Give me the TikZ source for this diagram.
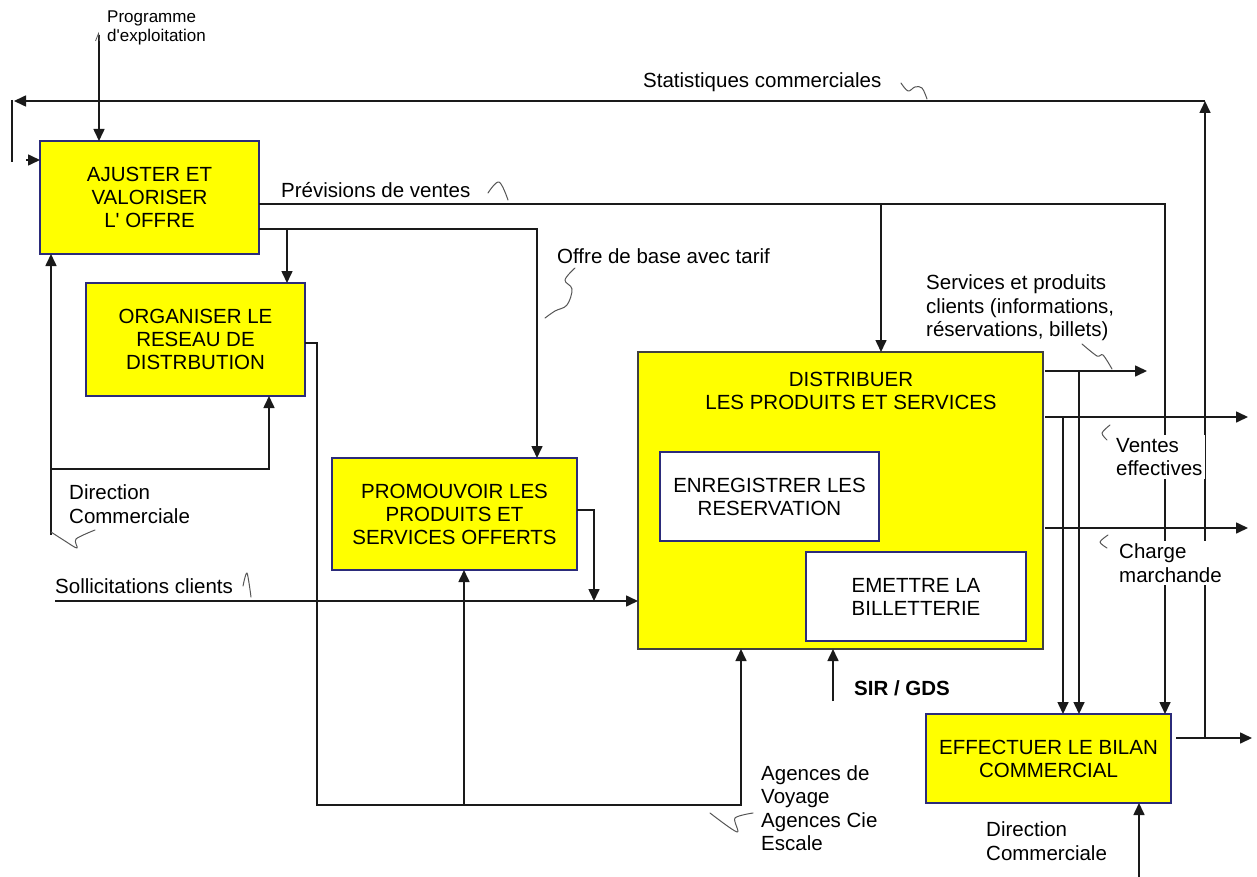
\documentclass[tikz,border=0pt]{standalone}
\usepackage{fontspec}
\setmainfont{Liberation Sans}[Ligatures=TeXOff]
\usetikzlibrary{arrows.meta}
\definecolor{boxyellow}{HTML}{FFFF00}
\definecolor{boxline}{HTML}{2B2B7A}
\definecolor{wireline}{HTML}{1A1A1A}
\definecolor{squig}{HTML}{555555}
\begin{document}
\begin{tikzpicture}[x=1pt,y=-1pt,
  txt/.style={font=\fontsize{20.5}{23.5}\selectfont, inner sep=0pt, align=left},
  smalltxt/.style={font=\fontsize{17}{19}\selectfont, inner sep=0pt, align=left},
  actbox/.style={draw=boxline, fill=boxyellow, line width=1.3pt, inner sep=0pt, outer sep=0pt,
    align=center, font=\fontsize{20.5}{23}\selectfont},
  subbox/.style={draw=boxline, fill=white, line width=1.2pt, inner sep=0pt, outer sep=0pt,
    align=center, font=\fontsize{20.5}{23}\selectfont},
  wire/.style={draw=wireline, line width=1.6pt},
  arr/.style={wire, -{Triangle[length=12pt,width=11pt]}},
  squiggle/.style={draw=squig, line width=1pt, line cap=round, line join=round}]

\useasboundingbox (0,0) rectangle (1257,877);

% activity boxes
\node[actbox, minimum width=219pt, minimum height=113pt] (A1) at (149.5,197.5)
  {AJUSTER ET\\VALORISER\\L' OFFRE};
\node[actbox, minimum width=219pt, minimum height=113pt] (A2) at (195.5,339.5)
  {ORGANISER LE\\RESEAU DE\\DISTRBUTION};
\node[actbox, minimum width=245pt, minimum height=112pt] (A3) at (454.5,514)
  {PROMOUVOIR LES\\PRODUITS ET\\SERVICES OFFERTS};
\node[actbox, draw=black!75, minimum width=405pt, minimum height=297pt] (A4) at (840.5,500.5) {};
\node[txt, align=center, font=\fontsize{20.5}{23}\selectfont] (A4t) at (851,391)
  {DISTRIBUER\\LES PRODUITS ET SERVICES};
\node[subbox, minimum width=219pt, minimum height=89pt] (E1) at (769.5,496.5)
  {ENREGISTRER LES\\RESERVATION};
\node[subbox, minimum width=220pt, minimum height=89pt] (E2) at (916,596.5)
  {EMETTRE LA\\BILLETTERIE};
\node[actbox, minimum width=245pt, minimum height=89pt] (A5) at (1048.5,758.5)
  {EFFECTUER LE BILAN\\COMMERCIAL};

% bend points and free ends
\coordinate (p0) at (99,35);
\coordinate (s0) at (1205,738);
\coordinate (s1) at (1205,101);
\coordinate (s2) at (14,101);
\coordinate (s3) at (12,100);
\coordinate (s4) at (12,162);
\coordinate (s5) at (26,160);
\coordinate (pvc) at (1165,204);
\coordinate (pvb) at (881,204);
\coordinate (ofc) at (537,229);
\coordinate (ofb) at (287,229);
\coordinate (r1) at (317,343);
\coordinate (r2) at (317,805);
\coordinate (r3) at (741,805);
\coordinate (r4) at (464,805);
\coordinate (d1) at (51,535);
\coordinate (d2) at (51,469);
\coordinate (d3) at (269,469);
\coordinate (sc) at (55,601);
\coordinate (pc) at (594,510);
\coordinate (g1) at (833,701);
\coordinate (o1) at (1147,371);
\coordinate (o1b) at (1079,371);
\coordinate (o2) at (1248,417);
\coordinate (o2b) at (1063,417);
\coordinate (o3) at (1248,528);
\coordinate (o4) at (1252,738);
\coordinate (b1) at (1139,877);

% programme d'exploitation
\draw[arr] (p0) -- (p0 |- A1.north);
\draw[squig, line width=0.8pt] (95.5,41) -- (98.5,33.5) -- (99.5,41);

% statistiques commerciales (feedback loop)
\draw[arr] (s0) -- (s1);
\draw[arr] (s1) -- (s2);
\draw[wire] (s3) -- (s4);
\draw[arr] (s5) -- (s5 -| A1.west);

% previsions de ventes
\draw[arr] (A1.east |- pvc) -- (pvc) -- (pvc |- A5.north);
\draw[arr] (pvb) -- (pvb |- A4.north);

% offre de base avec tarif
\draw[arr] (A1.east |- ofc) -- (ofc) -- (ofc |- A3.north);
\draw[arr] (ofb) -- (ofb |- A2.north);

% agences (output of the network)
\draw[arr] (A2.east |- r1) -- (r1) -- (r2) -- (r3) -- (r3 |- A4.south);
\draw[arr] (r4) -- (r4 |- A3.south);

% direction commerciale (left)
\draw[arr] (d1) -- (d1 |- A1.south);
\draw[arr] (d2) -- (d3) -- (d3 |- A2.south);

% sollicitations clients and promotion
\draw[arr] (sc) -- (sc -| A4.west);
\draw[arr] (A3.east |- pc) -- (pc) -- (pc |- sc);

% SIR / GDS
\draw[arr] (g1) -- (g1 |- A4.south);

% outputs of the distribution
\draw[arr] ([xshift=2pt]A4.east |- o1) -- (o1);
\draw[arr] (o1b) -- (o1b |- A5.north);
\draw[arr] ([xshift=2pt]A4.east |- o2) -- (o2);
\draw[arr] (o2b) -- (o2b |- A5.north);
\draw[arr] ([xshift=2pt]A4.east |- o3) -- (o3);

% outputs / inputs of the bilan
\draw[arr] ([xshift=5pt]A5.east |- o4) -- (o4);
\draw[arr] (b1) -- (b1 |- A5.south);

% labels
\node[smalltxt, anchor=west] (Lprog) at (107,27.5) {Programme\\d'exploitation};
\node[txt, anchor=base west] (Lstat) at (643,88) {Statistiques commerciales};
\node[txt, anchor=base west] (Lprev) at (281,198) {Prévisions de ventes};
\node[txt, anchor=base west] (Loffre) at (557,263) {Offre de base avec tarif};
\node[txt, anchor=west] (Ldir) at (69,504) {Direction\\Commerciale};
\node[txt, anchor=base west] (Lsol) at (55,593) {Sollicitations clients};
\node[txt, anchor=west] (Lag) at (761,808) {Agences de\\Voyage\\Agences Cie\\Escale};
\node[txt, anchor=base west, font=\fontsize{20.5}{23.5}\selectfont\bfseries] (Lsir) at (854,695) {SIR / GDS};
\node[txt, anchor=west] (Lserv) at (926,308) {Services et produits\\clients (informations,\\réservations, billets)};
\node[txt, anchor=west, fill=white, inner sep=3pt] (Lvent) at (1113,457) {Ventes\\effectives};
\node[txt, anchor=west, fill=white, inner sep=3pt] (Lcharge) at (1116,563) {Charge\\marchande};
\node[txt, anchor=west] (Ldir2) at (986,841) {Direction\\Commerciale};

% label leaders
\draw[squiggle] plot[smooth, tension=0.6] coordinates {(901,83) (908,91) (915,87) (922,88) (927,99)};
\draw[squiggle] plot[smooth, tension=0.6] coordinates {(488,193) (499,182) (508,200)};
\draw[squiggle] plot[smooth, tension=0.6] coordinates {(575,268) (565,280) (572,289) (567,305) (555,311) (545,318)};
\draw[squiggle] plot[smooth, tension=0.5] coordinates {(51,532) (65,541) (77,548) (76,539) (95,530)};
\draw[squiggle] plot[smooth, tension=0.5] coordinates {(243,586) (247,573) (251,597)};
\draw[squiggle] plot[smooth, tension=0.5] coordinates {(710,813) (737,832) (735,818) (753,813)};
\draw[squiggle] plot[smooth, tension=0.5] coordinates {(1082,344) (1097,356) (1103,355) (1112,369)};
\draw[squiggle] plot[smooth, tension=0.5] coordinates {(1110,425) (1102,433) (1107,440)};
\draw[squiggle] plot[smooth, tension=0.5] coordinates {(1108,535) (1100,542) (1107,548)};
\end{tikzpicture}
\end{document}
